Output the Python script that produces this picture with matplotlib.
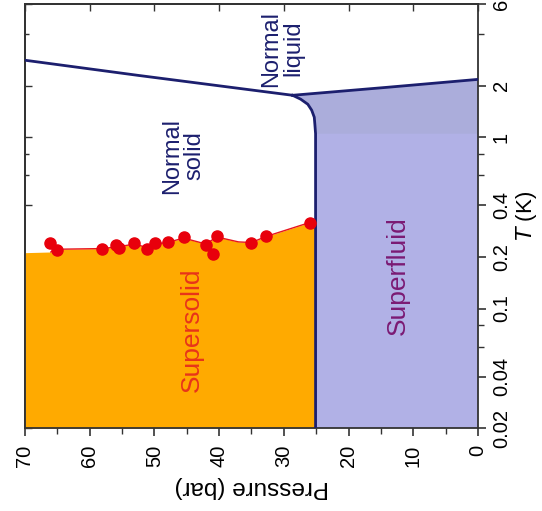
import numpy as np
import matplotlib.pyplot as plt
from matplotlib.ticker import FixedLocator, NullFormatter

plt.rcParams['font.family'] = ['Liberation Sans', 'DejaVu Sans']

# measured supersolid onset points (pressure in bar, temperature in K)
ss_pressure = [66.1, 65.0, 58.1, 55.9, 55.4, 53.1, 51.1, 49.9, 47.9, 45.5, 42.0, 40.4, 41.0, 35.0, 32.7, 26.0]
ss_temp = [0.243, 0.221, 0.224, 0.234, 0.226, 0.240, 0.224, 0.240, 0.245, 0.260, 0.236, 0.265, 0.207, 0.243, 0.264, 0.318]
ss_err = [0.008, 0.010, 0.008, 0.010, 0.010, 0.008, 0.008, 0.008, 0.010, 0.008, 0.008, 0.010, 0.008, 0.010, 0.010, 0.008]

# upper edge of the supersolid region
edge_pressure = [70, 66, 65, 58, 55.5, 53, 51, 50, 48, 45.5, 42, 40.4, 37, 35, 32.7, 26, 25.1]
edge_temp = [0.212, 0.214, 0.222, 0.224, 0.230, 0.238, 0.226, 0.238, 0.243, 0.258, 0.238, 0.262, 0.245, 0.243, 0.264, 0.318, 0.318]

# melting curve above the lambda point
melt_hi_p = [70, 52.5, 28.65]
melt_hi_t = [2.82, 2.30, 1.76]

# melting curve below the lambda point
melt_lo_p = [28.65, 27.4, 26.3, 25.7, 25.3, 25.2, 25.1, 25.1]
melt_lo_t = [1.76, 1.67, 1.56, 1.44, 1.31, 1.18, 1.05, 0.02]

# lambda line
lam_p = [28.65, 14.0, 0.0]
lam_t = [1.76, 1.96, 2.18]

t_ticks = [0.02, 0.04, 0.1, 0.2, 0.4, 1, 2, 6]
t_labels = ['0.02', '0.04', '0.1', '0.2', '0.4', '1', '2', '6']
t_minor = [0.06, 0.08, 0.6, 0.8, 4]
p_ticks = [70, 60, 50, 40, 30, 20, 10, 0]

navy = '#1c1f6e'
edge = '#333333'

fig = plt.figure(figsize=(5.42, 5.11), dpi=100)
ax = fig.add_axes([0.046, 0.162, 0.836, 0.830])
ax.set_yscale('log')
ax.set_xlim(70, 0)
ax.set_ylim(0.02, 6)

# supersolid region
ax.fill_between(edge_pressure, 0.02, edge_temp, color='#ffaa00', lw=0, zorder=1)

# superfluid region (lower and upper tone)
sf_p = melt_lo_p[::-1] + lam_p[1:] + [0.0]
sf_t = melt_lo_t[::-1] + lam_t[1:] + [0.02]
ax.fill(sf_p, sf_t, color='#b1b1e6', lw=0, zorder=1)
up_p = melt_lo_p[:7][::-1] + lam_p[1:] + [0.0]
up_t = melt_lo_t[:7][::-1] + lam_t[1:] + [1.05]
ax.fill(up_p, up_t, color='#abaddb', lw=0, zorder=1)

# phase boundaries
ax.plot(melt_hi_p, melt_hi_t, color=navy, lw=2, zorder=3)
ax.plot(melt_lo_p, melt_lo_t, color=navy, lw=2, zorder=3)
ax.plot(lam_p, lam_t, color=navy, lw=2, zorder=3)

# supersolid data
ax.plot(edge_pressure[1:-1], edge_temp[1:-1], color='#e8141e', lw=1, zorder=4)
ax.errorbar(ss_pressure, ss_temp, yerr=ss_err, fmt='o', color='#e8000c', ms=8,
            elinewidth=1, capsize=2, zorder=5)

# region labels
ax.text(45.5, 0.78, 'Normal\nsolid', rotation=90, color=navy, fontsize=17,
        ha='center', va='center', linespacing=1.0)
ax.text(30.2, 3.3, 'Normal\nliquid', rotation=90, color=navy, fontsize=17,
        ha='center', va='center', linespacing=1.0)
ax.text(44.2, 0.075, 'Supersolid', rotation=90, color='#e8341a', fontsize=19,
        ha='center', va='center')
ax.text(12.4, 0.156, 'Superfluid', rotation=90, color='#7b1a74', fontsize=19,
        ha='center', va='center')

# axes: bottom and right carry labels, ticks pointing out
ax.xaxis.set_major_locator(FixedLocator(p_ticks))
ax.xaxis.set_minor_locator(FixedLocator(np.arange(65, 0, -10)))
ax.yaxis.tick_right()
ax.yaxis.set_label_position('right')
ax.yaxis.set_major_locator(FixedLocator(t_ticks))
ax.yaxis.set_minor_locator(FixedLocator(t_minor))
ax.yaxis.set_minor_formatter(NullFormatter())
ax.set_yticklabels(t_labels, rotation=90, va='center')
ax.set_xticklabels([str(p) for p in p_ticks], rotation=90)
ax.tick_params(axis='both', which='major', direction='out', length=6, width=1.2,
               labelsize=14.5, color=edge)
ax.tick_params(axis='both', which='minor', direction='out', length=4, width=1.0,
               color=edge)
ax.tick_params(axis='x', pad=6)
ax.tick_params(axis='y', pad=4)

ax.set_xlabel('Pressure (bar)', fontsize=17.5, rotation=180, labelpad=6)
ax.set_ylabel('$T$ (K)', fontsize=16, rotation=90, labelpad=2)

# top and left: inward ticks, no labels
top = ax.secondary_xaxis('top')
top.xaxis.set_major_locator(FixedLocator(p_ticks))
top.tick_params(direction='in', length=5, width=1.0, labeltop=False, color=edge)
left = ax.secondary_yaxis('left')
left.yaxis.set_major_locator(FixedLocator(t_ticks))
left.yaxis.set_minor_locator(FixedLocator(t_minor))
left.tick_params(which='major', direction='in', length=5, width=1.0, labelleft=False, color=edge)
left.tick_params(which='minor', direction='in', length=3, width=1.0, labelleft=False, color=edge)
left.yaxis.set_minor_formatter(NullFormatter())

for s in list(ax.spines.values()) + list(top.spines.values()) + list(left.spines.values()):
    s.set_linewidth(1.3)
    s.set_color(edge)

fig.savefig('out.png', dpi=100)
